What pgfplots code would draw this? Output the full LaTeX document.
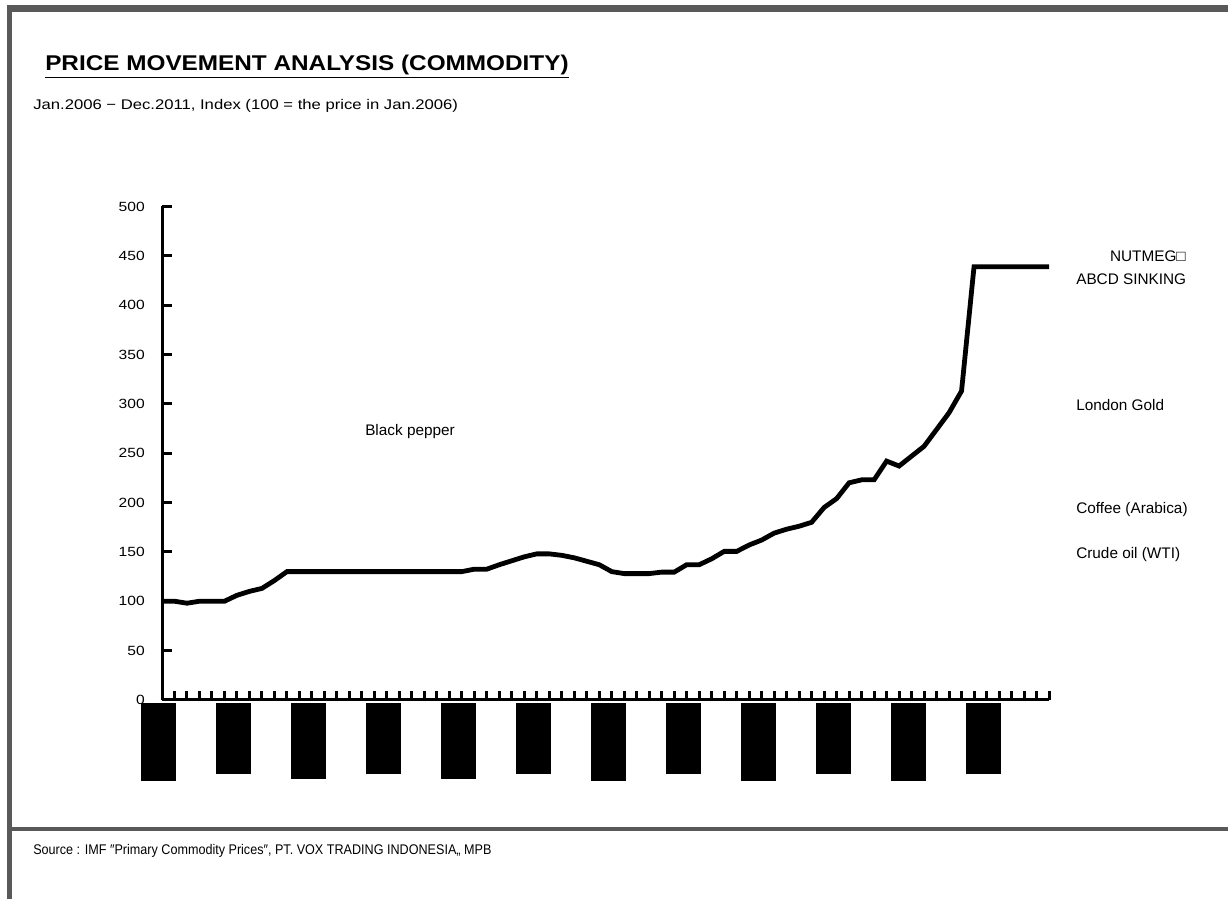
\documentclass[border=0pt]{standalone}
\usepackage{fontspec}
\setmainfont{Liberation Sans}
\usepackage{pgfplots}
\pgfplotsset{compat=1.18}
\definecolor{framegray}{HTML}{595959}

% index values, Jan.2006 = month 0
\pgfplotstableread{
m v
0 100
1 100
2 98
3 100
4 100
5 100
6 106
7 110
8 113
9 121
10 130
11 130
12 130
13 130
14 130
15 130
16 130
17 130
18 130
19 130
20 130
21 130
22 130
23 130
24 130
25 132.5
26 132.5
27 137
28 141
29 145
30 148
31 148
32 146.5
33 144
34 140.5
35 137
36 130
37 128
38 128
39 128
40 129.5
41 129.5
42 137
43 137
44 143
45 150.5
46 150.5
47 157
48 162
49 169
50 173
51 176
52 180
53 195
54 204
55 220
56 223
57 223
58 242
59 237
60 247
61 257
62 274
63 291
64 313
65 439
66 439
67 439
68 439
69 439
70 439
71 439
}\pricedata

\newcommand{\boxT}{\rule{26.25pt}{58.5pt}}
\newcommand{\boxS}{\rule{26.25pt}{53.25pt}}
\newcommand{\boxM}{\raisebox{1.5pt}{\rule{26.25pt}{57pt}}}

\begin{document}
\begin{tikzpicture}[x=0.75pt,y=0.75pt]
\path[use as bounding box] (0,0) rectangle (1228,899);
% frame
\fill[framegray] (7,894) rectangle (1228,887);
\fill[framegray] (7,894) rectangle (12,0);
\fill[framegray] (12,72) rectangle (1228,68);

% titles
\node[anchor=base west, inner sep=0pt, font=\fontsize{16}{18}\selectfont\bfseries] at (45,828)
  {\underline{\addfontfeature{FakeStretch=1.14}PRICE MOVEMENT ANALYSIS (COMMODITY)}};
\node[anchor=base west, inner sep=0pt, font=\fontsize{10.5}{12}\selectfont] at (33,789)
  {\addfontfeature{FakeStretch=1.19}Jan.2006 − Dec.2011, Index (100 = the price in Jan.2006)};
\node[anchor=base west, inner sep=0pt, font=\fontsize{10.5}{12}\selectfont] at (33,44)
  {\addfontfeature{FakeStretch=0.9}Source : IMF ″Primary Commodity Prices″, PT. VOX TRADING INDONESIA,, MPB};

% series names
\begin{scope}[every node/.style={inner sep=0pt, font=\fontsize{11.5}{13}\selectfont}]
\node[anchor=base east] at (1186,637) {NUTMEG□};
\node[anchor=base west] at (1076,614) {ABCD SINKING};
\node[anchor=base west] at (1076,488) {London Gold};
\node[anchor=base west] at (1076,385) {Coffee (Arabica)};
\node[anchor=base west] at (1076,340) {Crude oil (WTI)};
\node[anchor=base west] at (365,463) {Black pepper};
\end{scope}

\begin{axis}[
  at={(121.5pt,149.3pt)}, anchor=origin,
  scale only axis, width=665.25pt, height=370.1pt,
  xmin=0, xmax=71, ymin=0, ymax=500,
  axis lines=left,
  axis line style={line width=2.25pt, -},
  tick align=inside,
  clip=false,
  ytick={0,50,...,500},
  xtick={0,6,...,66},
  minor xtick={1,2,...,71},
  major tick length=7.5pt,
  minor tick length=7pt,
  major x tick style={draw=none},
  every tick/.style={black, line width=2.25pt},
  every minor tick/.style={black, line width=2.25pt},
  xticklabels={\boxT,\boxS,\boxM,\boxS,\boxM,\boxS,\boxT,\boxS,\boxT,\boxS,\boxT,\boxS},
  xticklabel style={anchor=north, inner sep=0pt, yshift=-2.4pt, xshift=-2.6pt},
  yticklabel style={anchor=east, inner sep=0pt, xshift=-12.75pt,
    font=\fontsize{10}{12}\selectfont\addfontfeature{FakeStretch=1.17}},
  /pgf/number format/assume math mode=true,
]
\addplot[black, line width=3.6pt, line join=miter, mark=none] table[x=m, y=v] {\pricedata};
\end{axis}
\end{tikzpicture}
\end{document}
